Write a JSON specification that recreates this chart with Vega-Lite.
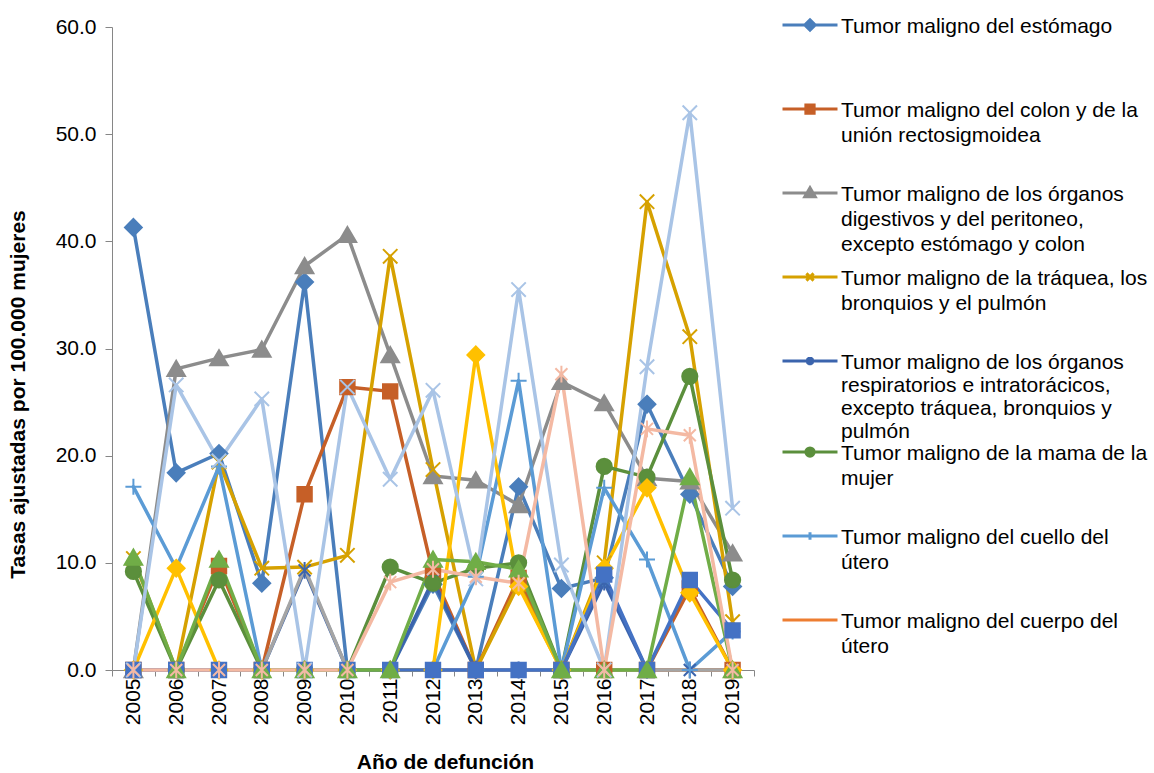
{
  "$schema": "https://vega.github.io/schema/vega-lite/v6.json",
  "width": 642,
  "height": 643,
  "autosize": {"type": "none"},
  "padding": {"left": 112, "top": 27, "right": 400, "bottom": 103},
  "background": "white",
  "config": {"view": {"stroke": null}, "font": "Liberation Sans"},
  "data": {"values": [
    {"n":1,"anio":"2005","tasa":41.3},{"n":1,"anio":"2006","tasa":18.4},{"n":1,"anio":"2007","tasa":20.2},{"n":1,"anio":"2008","tasa":8.1},{"n":1,"anio":"2009","tasa":36.2},{"n":1,"anio":"2010","tasa":0},{"n":1,"anio":"2011","tasa":0},{"n":1,"anio":"2012","tasa":8.0},{"n":1,"anio":"2013","tasa":0},{"n":1,"anio":"2014","tasa":17.1},{"n":1,"anio":"2015","tasa":7.6},{"n":1,"anio":"2016","tasa":8.6},{"n":1,"anio":"2017","tasa":24.8},{"n":1,"anio":"2018","tasa":16.4},{"n":1,"anio":"2019","tasa":7.8},
    {"n":2,"anio":"2005","tasa":0},{"n":2,"anio":"2006","tasa":0},{"n":2,"anio":"2007","tasa":9.7},{"n":2,"anio":"2008","tasa":0},{"n":2,"anio":"2009","tasa":16.4},{"n":2,"anio":"2010","tasa":26.4},{"n":2,"anio":"2011","tasa":26.0},{"n":2,"anio":"2012","tasa":9.0},{"n":2,"anio":"2013","tasa":0},{"n":2,"anio":"2014","tasa":8.6},{"n":2,"anio":"2015","tasa":0},{"n":2,"anio":"2016","tasa":0},{"n":2,"anio":"2017","tasa":0},{"n":2,"anio":"2018","tasa":7.6},{"n":2,"anio":"2019","tasa":0},
    {"n":3,"anio":"2005","tasa":0},{"n":3,"anio":"2006","tasa":28.1},{"n":3,"anio":"2007","tasa":29.1},{"n":3,"anio":"2008","tasa":29.9},{"n":3,"anio":"2009","tasa":37.7},{"n":3,"anio":"2010","tasa":40.6},{"n":3,"anio":"2011","tasa":29.4},{"n":3,"anio":"2012","tasa":18.1},{"n":3,"anio":"2013","tasa":17.7},{"n":3,"anio":"2014","tasa":15.4},{"n":3,"anio":"2015","tasa":26.9},{"n":3,"anio":"2016","tasa":24.9},{"n":3,"anio":"2017","tasa":17.9},{"n":3,"anio":"2018","tasa":17.6},{"n":3,"anio":"2019","tasa":10.9},
    {"n":4,"anio":"2005","tasa":10.4},{"n":4,"anio":"2006","tasa":0},{"n":4,"anio":"2007","tasa":19.4},{"n":4,"anio":"2008","tasa":9.5},{"n":4,"anio":"2009","tasa":9.6},{"n":4,"anio":"2010","tasa":10.7},{"n":4,"anio":"2011","tasa":38.6},{"n":4,"anio":"2012","tasa":18.7},{"n":4,"anio":"2013","tasa":0},{"n":4,"anio":"2014","tasa":8.0},{"n":4,"anio":"2015","tasa":0},{"n":4,"anio":"2016","tasa":10.0},{"n":4,"anio":"2017","tasa":43.7},{"n":4,"anio":"2018","tasa":31.1},{"n":4,"anio":"2019","tasa":4.5},
    {"n":5,"anio":"2005","tasa":0},{"n":5,"anio":"2006","tasa":0},{"n":5,"anio":"2007","tasa":0},{"n":5,"anio":"2008","tasa":0},{"n":5,"anio":"2009","tasa":9.3},{"n":5,"anio":"2010","tasa":0},{"n":5,"anio":"2011","tasa":0},{"n":5,"anio":"2012","tasa":8.4},{"n":5,"anio":"2013","tasa":0},{"n":5,"anio":"2014","tasa":0},{"n":5,"anio":"2015","tasa":0},{"n":5,"anio":"2016","tasa":8.2},{"n":5,"anio":"2017","tasa":0},{"n":5,"anio":"2018","tasa":0},{"n":5,"anio":"2019","tasa":0},
    {"n":6,"anio":"2005","tasa":9.2},{"n":6,"anio":"2006","tasa":0},{"n":6,"anio":"2007","tasa":8.4},{"n":6,"anio":"2008","tasa":0},{"n":6,"anio":"2009","tasa":0},{"n":6,"anio":"2010","tasa":0},{"n":6,"anio":"2011","tasa":9.6},{"n":6,"anio":"2012","tasa":8.1},{"n":6,"anio":"2013","tasa":9.5},{"n":6,"anio":"2014","tasa":10.0},{"n":6,"anio":"2015","tasa":0},{"n":6,"anio":"2016","tasa":19.0},{"n":6,"anio":"2017","tasa":18.0},{"n":6,"anio":"2018","tasa":27.4},{"n":6,"anio":"2019","tasa":8.4},
    {"n":7,"anio":"2005","tasa":17.1},{"n":7,"anio":"2006","tasa":9.5},{"n":7,"anio":"2007","tasa":19.0},{"n":7,"anio":"2008","tasa":0},{"n":7,"anio":"2009","tasa":0},{"n":7,"anio":"2010","tasa":0},{"n":7,"anio":"2011","tasa":0},{"n":7,"anio":"2012","tasa":0},{"n":7,"anio":"2013","tasa":8.7},{"n":7,"anio":"2014","tasa":27.0},{"n":7,"anio":"2015","tasa":0},{"n":7,"anio":"2016","tasa":17.0},{"n":7,"anio":"2017","tasa":10.3},{"n":7,"anio":"2018","tasa":0},{"n":7,"anio":"2019","tasa":3.6},
    {"n":8,"anio":"2005","tasa":0},{"n":8,"anio":"2006","tasa":0},{"n":8,"anio":"2007","tasa":0},{"n":8,"anio":"2008","tasa":0},{"n":8,"anio":"2009","tasa":0},{"n":8,"anio":"2010","tasa":0},{"n":8,"anio":"2011","tasa":0},{"n":8,"anio":"2012","tasa":0},{"n":8,"anio":"2013","tasa":0},{"n":8,"anio":"2014","tasa":0},{"n":8,"anio":"2015","tasa":0},{"n":8,"anio":"2016","tasa":0},{"n":8,"anio":"2017","tasa":0},{"n":8,"anio":"2018","tasa":0},{"n":8,"anio":"2019","tasa":0},
    {"n":9,"anio":"2005","tasa":0},{"n":9,"anio":"2006","tasa":0},{"n":9,"anio":"2007","tasa":0},{"n":9,"anio":"2008","tasa":0},{"n":9,"anio":"2009","tasa":9.5},{"n":9,"anio":"2010","tasa":0},{"n":9,"anio":"2011","tasa":0},{"n":9,"anio":"2012","tasa":0},{"n":9,"anio":"2013","tasa":0},{"n":9,"anio":"2014","tasa":0},{"n":9,"anio":"2015","tasa":0},{"n":9,"anio":"2016","tasa":0},{"n":9,"anio":"2017","tasa":0},{"n":9,"anio":"2018","tasa":0},{"n":9,"anio":"2019","tasa":0},
    {"n":10,"anio":"2005","tasa":0},{"n":10,"anio":"2006","tasa":9.5},{"n":10,"anio":"2007","tasa":0},{"n":10,"anio":"2008","tasa":0},{"n":10,"anio":"2009","tasa":0},{"n":10,"anio":"2010","tasa":0},{"n":10,"anio":"2011","tasa":0},{"n":10,"anio":"2012","tasa":0},{"n":10,"anio":"2013","tasa":29.4},{"n":10,"anio":"2014","tasa":7.8},{"n":10,"anio":"2015","tasa":0},{"n":10,"anio":"2016","tasa":9.5},{"n":10,"anio":"2017","tasa":17.0},{"n":10,"anio":"2018","tasa":7.2},{"n":10,"anio":"2019","tasa":0},
    {"n":11,"anio":"2005","tasa":0},{"n":11,"anio":"2006","tasa":0},{"n":11,"anio":"2007","tasa":0},{"n":11,"anio":"2008","tasa":0},{"n":11,"anio":"2009","tasa":0},{"n":11,"anio":"2010","tasa":0},{"n":11,"anio":"2011","tasa":0},{"n":11,"anio":"2012","tasa":0},{"n":11,"anio":"2013","tasa":0},{"n":11,"anio":"2014","tasa":0},{"n":11,"anio":"2015","tasa":0},{"n":11,"anio":"2016","tasa":8.9},{"n":11,"anio":"2017","tasa":0},{"n":11,"anio":"2018","tasa":8.4},{"n":11,"anio":"2019","tasa":3.7},
    {"n":12,"anio":"2005","tasa":10.5},{"n":12,"anio":"2006","tasa":0},{"n":12,"anio":"2007","tasa":10.3},{"n":12,"anio":"2008","tasa":0},{"n":12,"anio":"2009","tasa":0},{"n":12,"anio":"2010","tasa":0},{"n":12,"anio":"2011","tasa":0},{"n":12,"anio":"2012","tasa":10.3},{"n":12,"anio":"2013","tasa":10.1},{"n":12,"anio":"2014","tasa":9.4},{"n":12,"anio":"2015","tasa":0},{"n":12,"anio":"2016","tasa":0},{"n":12,"anio":"2017","tasa":0},{"n":12,"anio":"2018","tasa":18.0},{"n":12,"anio":"2019","tasa":0},
    {"n":13,"anio":"2005","tasa":0},{"n":13,"anio":"2006","tasa":26.6},{"n":13,"anio":"2007","tasa":19.5},{"n":13,"anio":"2008","tasa":25.3},{"n":13,"anio":"2009","tasa":0},{"n":13,"anio":"2010","tasa":26.4},{"n":13,"anio":"2011","tasa":17.8},{"n":13,"anio":"2012","tasa":26.1},{"n":13,"anio":"2013","tasa":8.5},{"n":13,"anio":"2014","tasa":35.5},{"n":13,"anio":"2015","tasa":9.8},{"n":13,"anio":"2016","tasa":0},{"n":13,"anio":"2017","tasa":28.3},{"n":13,"anio":"2018","tasa":52.0},{"n":13,"anio":"2019","tasa":15.1},
    {"n":14,"anio":"2005","tasa":0},{"n":14,"anio":"2006","tasa":0},{"n":14,"anio":"2007","tasa":0},{"n":14,"anio":"2008","tasa":0},{"n":14,"anio":"2009","tasa":0},{"n":14,"anio":"2010","tasa":0},{"n":14,"anio":"2011","tasa":8.2},{"n":14,"anio":"2012","tasa":9.4},{"n":14,"anio":"2013","tasa":8.7},{"n":14,"anio":"2014","tasa":8.1},{"n":14,"anio":"2015","tasa":27.6},{"n":14,"anio":"2016","tasa":0},{"n":14,"anio":"2017","tasa":22.5},{"n":14,"anio":"2018","tasa":21.9},{"n":14,"anio":"2019","tasa":0}
  ]},
  "transform": [
    {"lookup": "n", "from": {"data": {"values": [
      {"n":1,"serie":"Tumor maligno del estómago"},
      {"n":2,"serie":"Tumor maligno del colon y de la unión rectosigmoidea"},
      {"n":3,"serie":"Tumor maligno de los órganos digestivos y del peritoneo, excepto estómago y colon"},
      {"n":4,"serie":"Tumor maligno de la tráquea, los bronquios y el pulmón"},
      {"n":5,"serie":"Tumor maligno de los órganos respiratorios e intratorácicos, excepto tráquea, bronquios y pulmón"},
      {"n":6,"serie":"Tumor maligno de la mama de la mujer"},
      {"n":7,"serie":"Tumor maligno del cuello del útero"},
      {"n":8,"serie":"Tumor maligno del cuerpo del útero"},
      {"n":9,"serie":"Tumor maligno del útero, parte no especificada"},
      {"n":10,"serie":"Tumor maligno de otros órganos genitourinarios"},
      {"n":11,"serie":"Leucemia"},
      {"n":12,"serie":"Tumor maligno del tejido linfático, de otros órganos hematopoyéticos y de tejidos afines"},
      {"n":13,"serie":"Tumores malignos de otras localizaciones y de las no especificadas"},
      {"n":14,"serie":"Tumores in situ, benignos y los de comportamiento incierto o desconocido"}
    ]}, "key": "n", "fields": ["serie"]}}
  ],
  "encoding": {
    "x": {
      "field": "anio", "type": "ordinal", "bandPosition": 0.5,
      "scale": {"type": "band", "paddingInner": 0, "paddingOuter": 0},
      "title": "Año de defunción",
      "axis": {
        "labelAngle": -90, "labelFontSize": 21, "labelColor": "#000000", "labelPadding": 2,
        "tickBand": "extent", "tickSize": 6, "tickColor": "#868686", "domainColor": "#868686",
        "grid": false, "titleFontSize": 21, "titleFontWeight": "bold", "titleColor": "#000000",
        "titlePadding": 27, "titleX": 333
      }
    },
    "y": {
      "field": "tasa", "type": "quantitative",
      "scale": {"domain": [0, 60], "nice": false},
      "title": "Tasas ajustadas por 100.000 mujeres",
      "axis": {
        "values": [0, 10, 20, 30, 40, 50, 60], "format": ".1f",
        "labelFontSize": 21, "labelColor": "#000000", "labelPadding": 9,
        "tickSize": 7, "tickColor": "#868686", "domainColor": "#868686", "grid": false,
        "titleFontSize": 21, "titleFontWeight": "bold", "titleColor": "#000000",
        "titlePadding": 27, "titleY": 367
      }
    },
    "color": {
      "field": "serie", "type": "nominal",
      "scale": {
        "domain": [
          "Tumor maligno del estómago",
          "Tumor maligno del colon y de la unión rectosigmoidea",
          "Tumor maligno de los órganos digestivos y del peritoneo, excepto estómago y colon",
          "Tumor maligno de la tráquea, los bronquios y el pulmón",
          "Tumor maligno de los órganos respiratorios e intratorácicos, excepto tráquea, bronquios y pulmón",
          "Tumor maligno de la mama de la mujer",
          "Tumor maligno del cuello del útero",
          "Tumor maligno del cuerpo del útero",
          "Tumor maligno del útero, parte no especificada",
          "Tumor maligno de otros órganos genitourinarios",
          "Leucemia",
          "Tumor maligno del tejido linfático, de otros órganos hematopoyéticos y de tejidos afines",
          "Tumores malignos de otras localizaciones y de las no especificadas",
          "Tumores in situ, benignos y los de comportamiento incierto o desconocido"
        ],
        "range": ["#4A7EBB", "#C65F27", "#8C8C8C", "#D6A100", "#3B64AD", "#5B8F3C", "#5B9BD5", "#ED7D31", "#A5A5A5", "#FFC000", "#4472C4", "#70AD47", "#A9C4E6", "#F4B9A3"]
      },
      "legend": {
        "orient": "none", "legendX": 669, "legendY": -12, "title": null, "padding": 0,
        "values": [
          "Tumor maligno del estómago",
          "Tumor maligno del colon y de la unión rectosigmoidea",
          "Tumor maligno de los órganos digestivos y del peritoneo, excepto estómago y colon",
          "Tumor maligno de la tráquea, los bronquios y el pulmón",
          "Tumor maligno de los órganos respiratorios e intratorácicos, excepto tráquea, bronquios y pulmón",
          "Tumor maligno de la mama de la mujer",
          "Tumor maligno del cuello del útero",
          "Tumor maligno del cuerpo del útero"
        ],
        "labelFontSize": 21, "labelColor": "#000000", "labelLimit": 1000, "labelOffset": 2,
        "labelBaseline": "top", "symbolSize": 3025, "symbolStrokeWidth": 3, "rowPadding": 0,
        "clipHeight": 84,
        "labelExpr": "datum.value === 'Tumor maligno del estómago' ? 'Tumor maligno del estómago' : datum.value === 'Tumor maligno del colon y de la unión rectosigmoidea' ? ['Tumor maligno del colon y de la', 'unión rectosigmoidea'] : datum.value === 'Tumor maligno de los órganos digestivos y del peritoneo, excepto estómago y colon' ? ['Tumor maligno de los órganos', 'digestivos y del peritoneo,', 'excepto estómago y colon'] : datum.value === 'Tumor maligno de la tráquea, los bronquios y el pulmón' ? ['Tumor maligno de la tráquea, los', 'bronquios y el pulmón'] : datum.value === 'Tumor maligno de los órganos respiratorios e intratorácicos, excepto tráquea, bronquios y pulmón' ? ['Tumor maligno de los órganos', 'respiratorios e intratorácicos,', 'excepto tráquea, bronquios y', 'pulmón'] : datum.value === 'Tumor maligno de la mama de la mujer' ? ['Tumor maligno de la mama de la', 'mujer'] : datum.value === 'Tumor maligno del cuello del útero' ? ['Tumor maligno del cuello del', 'útero'] : ['Tumor maligno del cuerpo del', 'útero']",
        "encode": {
          "symbols": {"update": {
            "shape": {"signal": "datum.value === 'Tumor maligno del estómago' ? 'M-1,0L1,0M0,-0.19L0.19,0L0,0.19L-0.19,0Z' : datum.value === 'Tumor maligno del colon y de la unión rectosigmoidea' ? 'M-1,0L1,0M-0.15,-0.15L0.15,-0.15L0.15,0.15L-0.15,0.15Z' : datum.value === 'Tumor maligno de los órganos digestivos y del peritoneo, excepto estómago y colon' ? 'M-1,0L1,0M0,-0.19L0.19,0.14L-0.19,0.14Z' : datum.value === 'Tumor maligno de la tráquea, los bronquios y el pulmón' ? 'M-1,0L1,0M-0.13,-0.13L0.13,0.13M-0.13,0.13L0.13,-0.13' : datum.value === 'Tumor maligno de los órganos respiratorios e intratorácicos, excepto tráquea, bronquios y pulmón' ? 'M-1,0L1,0M-0.11,-0.11L0.11,0.11M-0.11,0.11L0.11,-0.11M0,-0.15L0,0.15' : datum.value === 'Tumor maligno de la mama de la mujer' ? 'M-1,0L1,0M0.15,0A0.15,0.15 0 1 1 -0.15,0A0.15,0.15 0 1 1 0.15,0Z' : datum.value === 'Tumor maligno del cuello del útero' ? 'M-1,0L1,0M0,-0.14L0,0.14' : 'M-1,0L1,0'"},
            "size": {"value": 3025},
            "y": {"value": 10},
            "fill": {"scale": "color", "field": "value"},
            "stroke": {"scale": "color", "field": "value"},
            "strokeWidth": {"value": 3},
            "opacity": {"value": 1}
          }},
          "labels": {"update": {
            "y": {"value": 10},
            "dy": {"value": -9},
            "lineHeight": {"signal": "datum.value === 'Tumor maligno de los órganos respiratorios e intratorácicos, excepto tráquea, bronquios y pulmón' ? 23 : 25"}
          }}
        }
      }
    }
  },
  "layer": [
    {
      "mark": {"type": "line", "strokeWidth": 3.5, "strokeJoin": "round", "strokeCap": "round"},
      "encoding": {"order": {"field": "anio"}}
    },
    {
      "mark": {"type": "point", "filled": true, "opacity": 1, "size": 256, "strokeWidth": 2},
      "encoding": {
        "stroke": {
          "field": "n", "type": "nominal", "legend": null,
          "scale": {
            "domain": [1, 2, 3, 4, 5, 6, 7, 8, 9, 10, 11, 12, 13, 14],
            "range": ["#4A7EBB", "#C65F27", "#8C8C8C", "#D6A100", "#3B64AD", "#5B8F3C", "#5B9BD5", "#ED7D31", "#A5A5A5", "#FFC000", "#4472C4", "#70AD47", "#A9C4E6", "#F4B9A3"]
          }
        },
        "shape": {
          "field": "n", "type": "nominal", "legend": null,
          "scale": {
            "domain": [1, 2, 3, 4, 5, 6, 7, 8, 9, 10, 11, 12, 13, 14],
            "range": [
              "M0,-1.05L1.05,0L0,1.05L-1.05,0Z",
              "M-0.9,-0.9L0.9,-0.9L0.9,0.9L-0.9,0.9Z",
              "M0,-1L1.1,0.9L-1.1,0.9Z",
              "M-0.9,-0.9L0.9,0.9M-0.9,0.9L0.9,-0.9",
              "M-0.75,-0.75L0.75,0.75M-0.75,0.75L0.75,-0.75M0,-1.05L0,1.05",
              "M0.95,0A0.95,0.95 0 1 1 -0.95,0A0.95,0.95 0 1 1 0.95,0Z",
              "M-1,0L1,0M0,-1L0,1",
              "M0,0",
              "M0,0",
              "M0,-1.05L1.05,0L0,1.05L-1.05,0Z",
              "M-0.9,-0.9L0.9,-0.9L0.9,0.9L-0.9,0.9Z",
              "M0,-1L1.1,0.9L-1.1,0.9Z",
              "M-0.9,-0.9L0.9,0.9M-0.9,0.9L0.9,-0.9",
              "M-0.75,-0.75L0.75,0.75M-0.75,0.75L0.75,-0.75M0,-1.05L0,1.05"
            ]
          }
        }
      }
    }
  ]
}
